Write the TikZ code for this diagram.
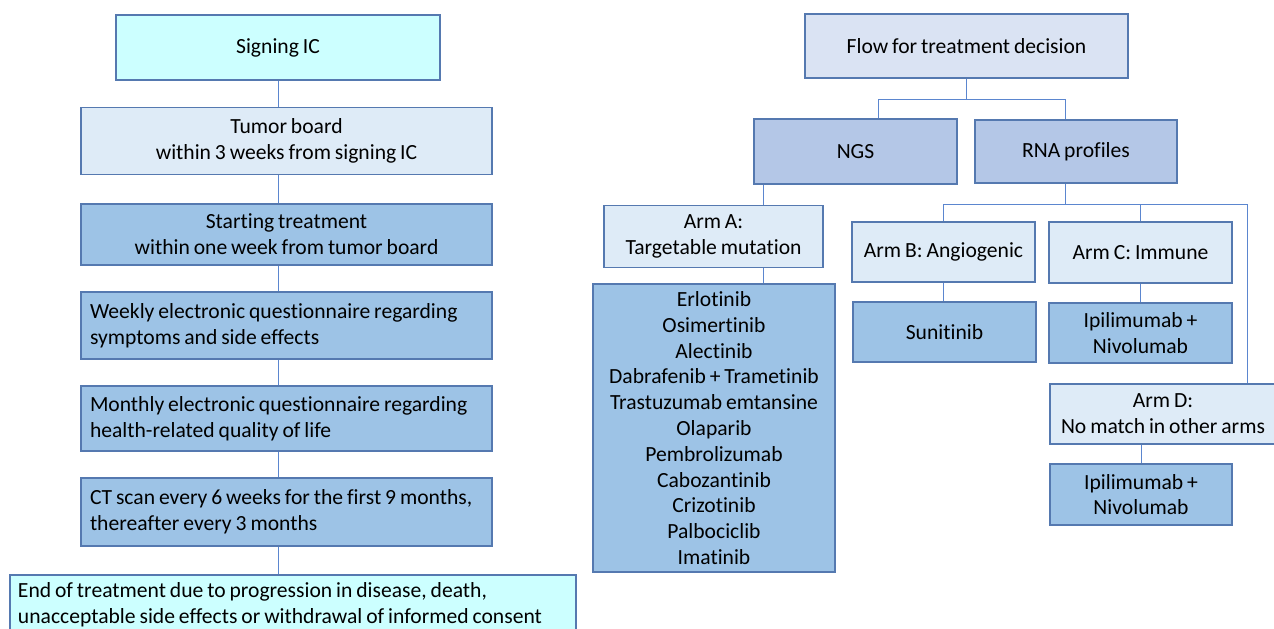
\documentclass[tikz,border=0pt]{standalone}
\usepackage{fontspec}
\setmainfont{Carlito}[Ligatures=NoCommon, WordSpace={0.8}]
\definecolor{icfill}{HTML}{CCFFFF}
\definecolor{palefill}{HTML}{DEEBF7}
\definecolor{midfill}{HTML}{9DC3E6}
\definecolor{flowfill}{HTML}{DAE3F3}
\definecolor{testfill}{HTML}{B4C7E7}
\definecolor{edge}{HTML}{5579B0}
\definecolor{wire}{HTML}{5B86CF}
\begin{document}
\begin{tikzpicture}[x=0.5pt, y=-0.5pt,
    stage/.style ={draw=edge, line width=0.6pt, inner sep=0pt, align=center,
      font=\fontsize{10.8}{12.9}\selectfont},
    lefttext/.style ={align=flush left, inner xsep=4.5pt, text width=196.5pt},
    link/.style ={draw=wire, line width=0.5pt}]
   \useasboundingbox (0,0) rectangle (1274,628);

   % study flow
   \node[stage, fill=icfill, minimum width=162pt, minimum height=32.5pt] (ic) at (278,47.5) {Signing IC};
   \node[stage, fill=palefill, minimum width=205.5pt, minimum height=33.5pt] (board) at (286.5,141) {Tumor board\\within 3 weeks from signing IC};
   \node[stage, fill=midfill, minimum width=205.5pt, minimum height=30.5pt] (start) at (286.5,234.5) {Starting treatment\\within one week from tumor board};
   \node[stage, lefttext, fill=midfill, minimum height=33.5pt] (weekly) at (286.5,325.5) {Weekly electronic questionnaire regarding\\symptoms and side effects};
   \node[stage, lefttext, fill=midfill, minimum height=32.5pt] (monthly) at (286.5,418.5) {Monthly electronic questionnaire regarding\\health-related quality of life};
   \node[stage, lefttext, fill=midfill, minimum height=34pt] (ct) at (286.5,512) {CT scan every 6 weeks for the first 9 months,\\thereafter every 3 months};
   \node[stage, fill=icfill, align=flush left, inner xsep=4pt, text width=275pt, minimum height=30pt] (finish) at (293,605) {End of treatment due to progression in disease, death,\\unacceptable side effects or withdrawal of informed consent};

   \draw[link] (ic.south) -- (ic.south |- board.north);
   \draw[link] (ic.south |- board.south) -- (ic.south |- start.north);
   \draw[link] (ic.south |- start.south) -- (ic.south |- weekly.north);
   \draw[link] (ic.south |- weekly.south) -- (ic.south |- monthly.north);
   \draw[link] (ic.south |- monthly.south) -- (ic.south |- ct.north);
   \draw[link] (ic.south |- ct.south) -- (ic.south |- finish.north);

   % treatment decision
   \node[stage, fill=flowfill, minimum width=161.5pt, minimum height=32pt] (flow) at (966.5,46) {Flow for treatment decision};
   \node[stage, fill=testfill, minimum width=101.5pt, minimum height=32.5pt] (ngs) at (855.5,151.5) {NGS};
   \node[stage, fill=testfill, minimum width=101pt, minimum height=31.5pt] (rna) at (1076,151.5) {RNA profiles};
   \node[stage, fill=palefill, minimum width=109.5pt, minimum height=31pt] (armA) at (713.5,236.5) {Arm A:\\Targetable mutation};
   \node[stage, fill=midfill, minimum width=121pt, minimum height=144pt] (drugs) at (714,428) {Erlotinib\\Osimertinib\\Alectinib\\Dabrafenib + Trametinib\\Trastuzumab emtansine\\Olaparib\\Pembrolizumab\\Cabozantinib\\Crizotinib\\Palbociclib\\Imatinib};
   \node[stage, fill=palefill, minimum width=91.5pt, minimum height=30pt] (armB) at (943.5,252) {Arm B: Angiogenic};
   \node[stage, fill=palefill, minimum width=91.5pt, minimum height=30.5pt] (armC) at (1140.5,252.5) {Arm C: Immune};
   \node[stage, fill=midfill, minimum width=91.5pt, minimum height=30pt] (suni) at (944.5,332) {Sunitinib};
   \node[stage, fill=midfill, minimum width=91.5pt, minimum height=30pt] (ipiC) at (1140.5,333) {Ipilimumab +\\Nivolumab};
   \node[stage, fill=palefill, minimum width=113pt, minimum height=30pt] (armD) at (1163,414) {Arm D:\\No match in other arms};
   \node[stage, fill=midfill, minimum width=91pt, minimum height=30.5pt] (ipiD) at (1141,494.5) {Ipilimumab +\\Nivolumab};

   \coordinate (armAtop) at ([xshift=24.75pt]armA.north);
   \coordinate (armAbot) at ([xshift=24.75pt]armA.south);

   \draw[link] (flow.south) -- ++(0,21) coordinate (fork) -| ([xshift=11.25pt]ngs.north);
   \draw[link] (fork) -| ([xshift=-5.5pt]rna.north);
   \draw[link] (armAtop |- ngs.south) -- (armAtop);
   \draw[link] (armAbot) -- (armAbot |- drugs.north);
   \draw[link] ([xshift=-5.5pt]rna.south) -- ++(0,21) coordinate (fork2) -| (armB.north);
   \draw[link] (fork2) -| (armC.north);
   \draw[link] (fork2) -| ([xshift=42pt]armD.north);
   \draw[link] (armB.south) -- (armB.south |- suni.north);
   \draw[link] (armC.south) -- (ipiC.north);
   \draw[link] (ipiD.north |- armD.south) -- (ipiD.north);
 \end{tikzpicture}
\end{document}
